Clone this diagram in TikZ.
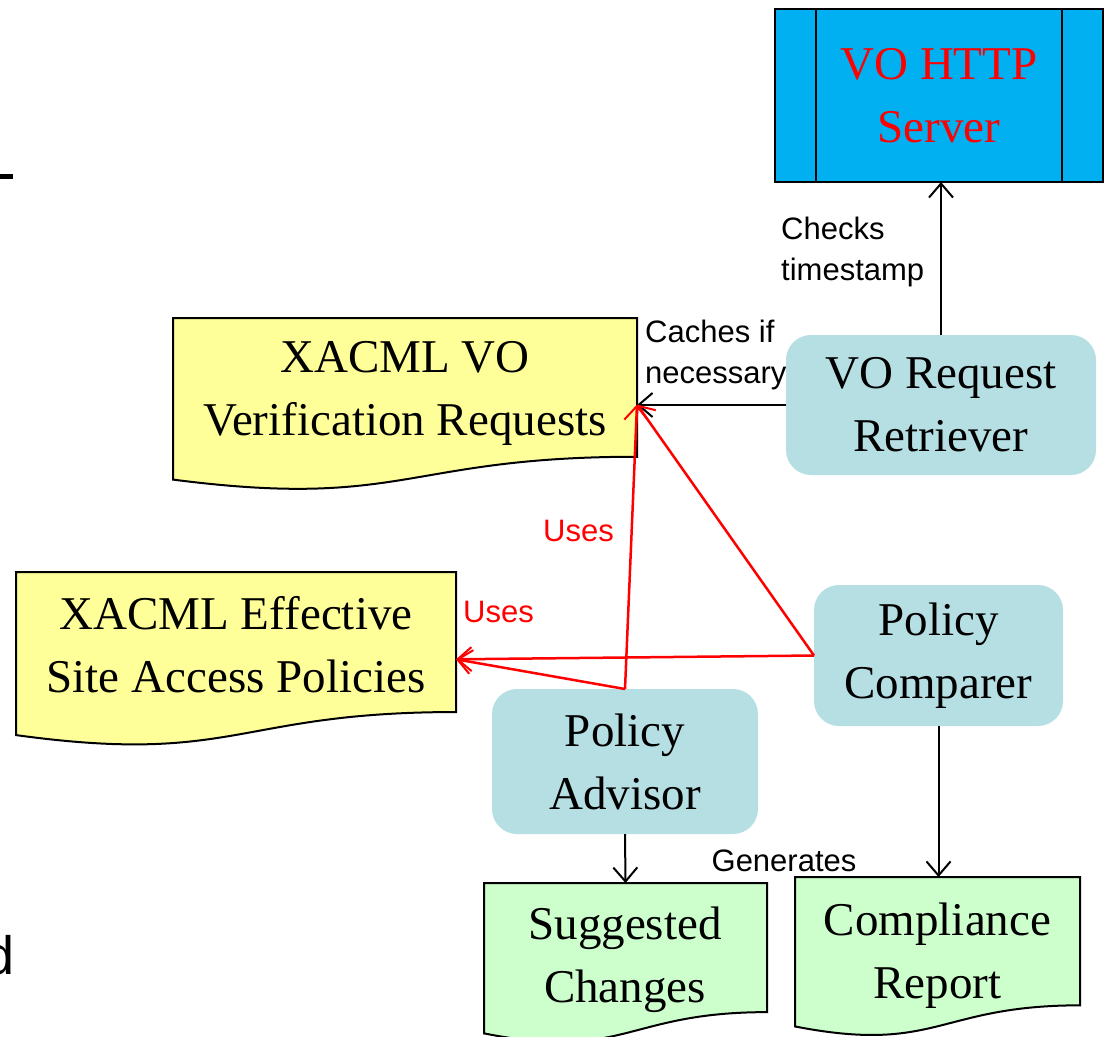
\documentclass[tikz,border=0pt]{standalone}
\usepackage{fontspec}
\setmainfont{Liberation Serif}
\newfontfamily\labelfont{Liberation Sans}
\usetikzlibrary{arrows.meta,calc}

\definecolor{srvblue}{RGB}{0,176,240}
\definecolor{docyellow}{RGB}{255,255,153}
\definecolor{docgreen}{RGB}{204,255,204}
\definecolor{procblue}{RGB}{182,223,228}

% Flowchart "document" outline laid over the bounds of node #1, filled with #2
\newcommand\docshape[2]{%
  \filldraw[fill=#2, draw=black, line width=2pt, line join=miter]
    (#1.north west) -- (#1.north east)
    -- ($(#1.north east)!0.802!(#1.south east)$)
    .. controls ($(#1.north)!0.802!(#1.south)$) and ($(#1.north)!1.1075!(#1.south)$) ..
    ($(#1.north west)!0.934!(#1.south west)$) -- cycle;}

\begin{document}
\begin{tikzpicture}[x=1pt,y=-1pt,
  bigtext/.style={font=\fontsize{47pt}{63pt}\selectfont, align=center},
  anchorbox/.style={inner sep=0pt, outer sep=0pt},
  serverbox/.style={anchorbox, draw=black, line width=2.5pt, fill=srvblue, text=red, bigtext},
  process/.style={anchorbox, fill=procblue, rounded corners=25pt, bigtext},
  docbox/.style={anchorbox},
  doctext/.style={bigtext, inner sep=0pt},
  smalllabel/.style={font=\labelfont\fontsize{31pt}{41pt}\selectfont, align=left, inner sep=0pt},
  flow/.style={line width=2pt, -{Straight Barb[length=14pt,width=24pt,line width=2pt]}},
  uses/.style={flow, draw=red, line width=2.5pt},
]
\useasboundingbox (0,0) rectangle (1105,1036);
\clip (0,0) rectangle (1105,1036);

% slide remnants at the left edge
\fill[black] (0,173.5) rectangle (13,178.5);
\node[anchor=base east, inner sep=0pt, font=\labelfont\fontsize{54pt}{60pt}\selectfont] (cutd) at (14.7,974) {d};

% server
\node[serverbox, minimum width=328pt, minimum height=173pt] (server) at (939,95.5) {VO HTTP\\Server};
\draw[line width=2pt] ([xshift=41pt]server.north west) -- ([xshift=41pt]server.south west);
\draw[line width=2pt] ([xshift=-41pt]server.north east) -- ([xshift=-41pt]server.south east);

% processes
\node[process, minimum width=310pt, minimum height=140pt] (retr) at (941,405) {VO Request\\Retriever};
\node[process, minimum width=249pt, minimum height=141pt] (comp) at (938.5,655.5) {Policy\\Comparer};
\node[process, minimum width=266pt, minimum height=145pt] (adv) at (625,761.5) {Policy\\Advisor};

% documents
\node[docbox, minimum width=464pt, minimum height=173pt] (doc1) at (405,404.5) {};
\node[docbox, minimum width=440pt, minimum height=174.6pt] (doc2) at (236,659.3) {};
\node[docbox, minimum width=283pt, minimum height=161pt] (sug) at (625.5,963.5) {};
\node[docbox, minimum width=285pt, minimum height=160pt] (rep) at (937.5,957) {};
\docshape{doc1}{docyellow}
\docshape{doc2}{docyellow}
\docshape{sug}{docgreen}
\docshape{rep}{docgreen}
\node[doctext] (doc1txt) at (405,393) {XACML VO\\Verification Requests};
\node[doctext] (doc2txt) at (236,645) {XACML Effective\\Site Access Policies};
\node[doctext] (sugtxt) at (625,960) {Suggested\\Changes};
\node[doctext] (reptxt) at (937.5,956) {Compliance\\Report};

% connectors
\draw[flow] (retr.north) -- (retr.north |- server.south);
\draw[flow] (retr.west) -- (retr.west -| doc1.east);
\draw[uses] (comp.west) -- (doc1.east);
\draw[uses] (adv.north) -- (doc1.east);
\draw[uses] (comp.west) -- (doc2.east);
\draw[uses] (adv.north) -- (doc2.east);
\draw[flow] (adv.south) -- (sug.north);
\draw[flow] (comp.south) -- (comp.south |- rep.north);

% connector labels
\node[smalllabel, anchor=west] (lblcheck) at (781,252) {Checks\\timestamp};
\node[smalllabel, anchor=west] (lblcache) at (645,355) {Caches if\\necessary};
\node[smalllabel, anchor=west, text=red] (lbluses1) at (543,531) {Uses};
\node[smalllabel, anchor=west, text=red] (lbluses2) at (463,612) {Uses};
\node[smalllabel] (lblgen) at (784,861) {Generates};
\end{tikzpicture}
\end{document}
